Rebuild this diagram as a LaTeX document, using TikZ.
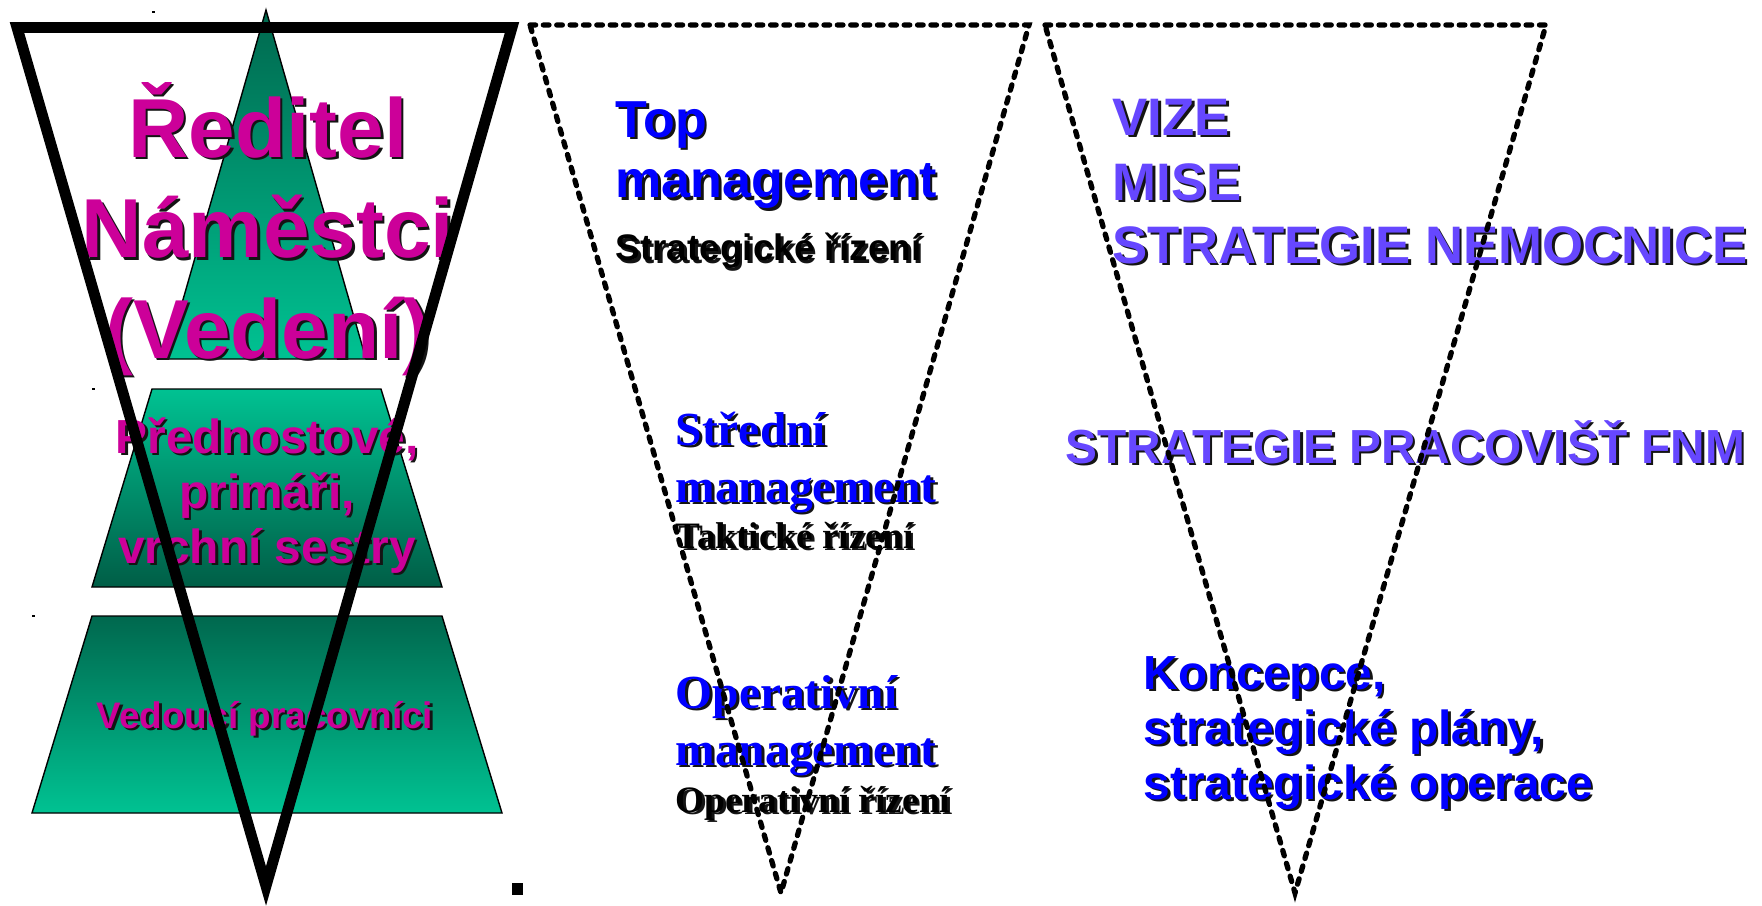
\documentclass[tikz,border=0pt]{standalone}
\usepackage{fontspec}
\setmainfont{Liberation Serif}
\setsansfont{Liberation Sans}

\definecolor{ruzova}{RGB}{204,0,153}
\definecolor{modra}{RGB}{0,0,255}
\definecolor{fialova}{RGB}{102,71,255}
\definecolor{stin}{RGB}{20,20,20}
\definecolor{zeltmava}{RGB}{0,104,78}
\definecolor{zelsvetla}{RGB}{0,194,146}

\tikzset{
  txt/.style={inner sep=0pt, anchor=base},
  vedeni/.style={txt, font=\sffamily\bfseries\fontsize{23.8}{28}\selectfont, text=ruzova},
  primari/.style={txt, font=\sffamily\bfseries\fontsize{13.6}{16}\selectfont, text=ruzova},
  vedouci/.style={txt, font=\sffamily\bfseries\fontsize{10.5}{12}\selectfont, text=ruzova},
  topm/.style={txt, anchor=base west, font=\sffamily\bfseries\fontsize{14.8}{17}\selectfont, text=modra},
  topsub/.style={txt, anchor=base west, font=\sffamily\bfseries\fontsize{10.5}{12}\selectfont, text=black},
  casm/.style={txt, anchor=base west, font=\rmfamily\bfseries\fontsize{13.5}{16}\selectfont, text=modra},
  cassub/.style={txt, anchor=base west, font=\rmfamily\bfseries\fontsize{10.6}{12}\selectfont, text=black},
  vize/.style={txt, anchor=base west, font=\sffamily\bfseries\fontsize{15}{18}\selectfont, text=fialova},
  fnm/.style={txt, anchor=base west, font=\sffamily\bfseries\fontsize{13.6}{16}\selectfont, text=fialova},
  koncepce/.style={txt, anchor=base west, font=\sffamily\bfseries\fontsize{13.6}{16}\selectfont, text=modra},
  tecky/.style={dash pattern=on 1.6pt off 2.2pt, line width=1.5pt, line cap=round}
}

% text with a drop shadow: name, style, position, text
\newcommand{\stintext}[4]{%
  \node[#2, text=stin] at ([shift={(2.5,2.5)}]#3) {#4};
  \node[#2] (#1) at (#3) {#4};}

\begin{document}
\begin{tikzpicture}[x=0.01cm, y=-0.01cm]
\useasboundingbox (0,0) rectangle (1762,906);

% pyramida
\shadedraw[top color=zeltmava, bottom color=zelsvetla, draw=black, line width=0.4pt]
  (266,10) -- (366,359) -- (166,359) -- cycle;
\shadedraw[top color=zelsvetla, bottom color=zeltmava!90!black, draw=black, line width=0.4pt]
  (152,389) -- (381,389) -- (442,587) -- (92,587) -- cycle;
\shadedraw[top color=zeltmava, bottom color=zelsvetla, draw=black, line width=0.4pt]
  (92,616) -- (442,616) -- (502,813) -- (32,813) -- cycle;

% drobne tecky
\fill (152,11) rectangle (155,12.5);
\fill (92,388) rectangle (95,389.5);
\fill (32,615) rectangle (35,616.5);

\stintext{reditel}{vedeni}{268,157}{Ředitel}
\stintext{namestci}{vedeni}{268,258}{Náměstci}
\stintext{vedeniuz}{vedeni}{268,358}{(Vedení)}
\stintext{prednostove}{primari}{267,453}{Přednostové,}
\stintext{primari}{primari}{267,508}{primáři,}
\stintext{sestry}{primari}{267,563}{vrchní sestry}
\stintext{vedouci}{vedouci}{265,728}{Vedoucí pracovníci}

% top management
\stintext{top}{topm}{615,137}{Top}
\stintext{topman}{topm}{615,198}{management}
\stintext{strat}{topsub}{615,261}{Strategické řízení}

\stintext{stredni}{casm}{675,445}{Střední}
\stintext{strman}{casm}{675,502}{management}
\stintext{takt}{cassub}{675,548}{Taktické řízení}

\stintext{oper}{casm}{675,708}{Operativní}
\stintext{operman}{casm}{675,765}{management}
\stintext{operriz}{cassub}{675,812}{Operativní řízení}

% vize a strategie
\stintext{vizetxt}{vize}{1112,135}{VIZE}
\stintext{mise}{vize}{1112,200}{MISE}
\stintext{nemocnice}{vize}{1112,263}{STRATEGIE NEMOCNICE}
\stintext{pracovist}{fnm}{1065,463}{STRATEGIE PRACOVIŠŤ FNM}
\stintext{konc}{koncepce}{1143,689}{Koncepce,}
\stintext{plany}{koncepce}{1143,744}{strategické plány,}
\stintext{operace}{koncepce}{1143,799}{strategické operace}

% obraceny trojuhelnik
\coordinate (vl) at (17,27.5);
\coordinate (vr) at (512,27.5);
\coordinate (vs) at (266,886);
\draw[line width=3.1pt] (vl) -- (vr) -- (vs) -- cycle;
\fill (512,883) rectangle (523,895);

% carkovane trojuhelniky
\coordinate (al) at (530,25);
\coordinate (ar) at (1029,25);
\coordinate (as) at (781,893);
\draw[tecky] (al) -- (ar) -- (as) -- cycle;
\coordinate (bl) at (1045,25);
\coordinate (br) at (1546,25);
\coordinate (bs) at (1295,893);
\draw[tecky] (bl) -- (br) -- (bs) -- cycle;
\end{tikzpicture}
\end{document}
